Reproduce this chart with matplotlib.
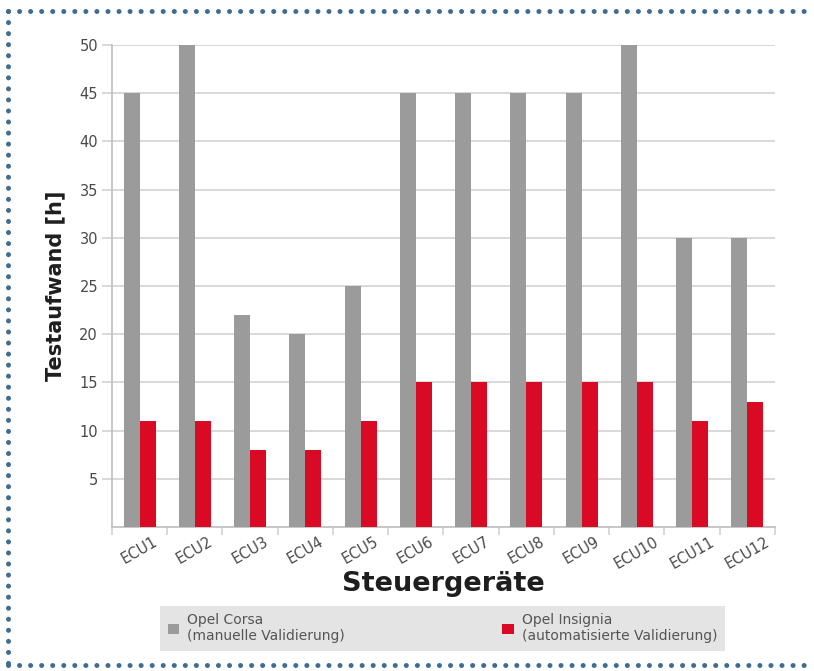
import numpy as np
import matplotlib
matplotlib.use("Agg")
import matplotlib.pyplot as plt
from matplotlib.lines import Line2D

# データ
ecus = ["ECU1", "ECU2", "ECU3", "ECU4", "ECU5", "ECU6",
        "ECU7", "ECU8", "ECU9", "ECU10", "ECU11", "ECU12"]
corsa = [45, 50, 22, 20, 25, 45, 45, 45, 45, 50, 30, 30]
insignia = [11, 11, 8, 8, 11, 15, 15, 15, 15, 15, 11, 13]
y_ticks = [5, 10, 15, 20, 25, 30, 35, 40, 45, 50]
label_corsa = "Opel Corsa\n(manuelle Validierung)"
label_insignia = "Opel Insignia\n(automatisierte Validierung)"

c_gray = "#9b9b9b"
c_red = "#d90a24"
c_text = "#4a4a4a"
c_grid = "#d2d2d2"
c_dots = "#3f6c92"

plt.rcParams['font.family'] = ['DejaVu Sans']

fig = plt.figure(figsize=(8.14, 6.71), dpi=100)
fig.patch.set_facecolor("white")
ax = fig.add_axes([0.1376, 0.2146, 0.952 - 0.1376, 0.933 - 0.2146])

x = np.arange(len(ecus))
w = 0.29
b1 = ax.bar(x - w / 2, corsa, width=w, color=c_gray, label=label_corsa, zorder=3)
b2 = ax.bar(x + w / 2, insignia, width=w, color=c_red, label=label_insignia, zorder=3)

ax.set_xlim(-0.5, len(ecus) - 0.5)
ax.set_ylim(0, 50)
ax.set_yticks(y_ticks)
ax.set_yticklabels([str(v) for v in y_ticks], fontsize=10.5, color=c_text)
ax.yaxis.grid(True, color=c_grid, linewidth=1.2, zorder=0)
ax.tick_params(axis='y', length=7, color=c_grid, width=1.2, pad=3)

# x軸: 目盛はカテゴリ境界
ax.set_xticks(np.arange(len(ecus) + 1) - 0.5)
ax.set_xticklabels([])
ax.set_xticks(x, minor=True)
ax.set_xticklabels(ecus, minor=True, rotation=30, ha='center', fontsize=10.5, color=c_text)
ax.tick_params(axis='x', which='major', length=6, color=c_grid, width=1.2)
ax.tick_params(axis='x', which='minor', length=0, pad=5)

for s in ['top', 'right']:
    ax.spines[s].set_visible(False)
for s in ['left', 'bottom']:
    ax.spines[s].set_color("#bdbdbd")
    ax.spines[s].set_linewidth(1.2)

ax.set_ylabel("Testaufwand [h]", fontsize=15, fontweight='bold', color="#1e1e1e", labelpad=10)
ax.set_xlabel("Steuergeräte", fontsize=19.5, fontweight='bold', color="#1e1e1e", labelpad=0)

# 凡例
leg = fig.legend(handles=[b1, b2], loc='lower left', ncol=2, mode='expand',
                 bbox_to_anchor=(160 / 814, 1 - 651 / 671, 565 / 814, 46 / 671),
                 fontsize=10, frameon=True, facecolor="#e4e4e4", edgecolor="none",
                 fancybox=False, framealpha=1, handlelength=0.8, handleheight=0.8,
                 handletextpad=0.6, borderaxespad=0, borderpad=0.55)
for t in leg.get_texts():
    t.set_color("#555555")

# 点線の枠
def fx(px):
    return px / 814
def fy(py):
    return 1 - py / 671

dot_style = dict(color=c_dots, linewidth=3.6, linestyle=(0, (0.01, 2.2)),
                 dash_capstyle='round', transform=fig.transFigure)
fig.add_artist(Line2D([fx(8), fx(814)], [fy(11), fy(11)], **dot_style))
fig.add_artist(Line2D([fx(8), fx(8)], [fy(11), fy(665)], **dot_style))
fig.add_artist(Line2D([fx(8), fx(814)], [fy(665), fy(665)], **dot_style))

fig.savefig("out.png", dpi=100)
